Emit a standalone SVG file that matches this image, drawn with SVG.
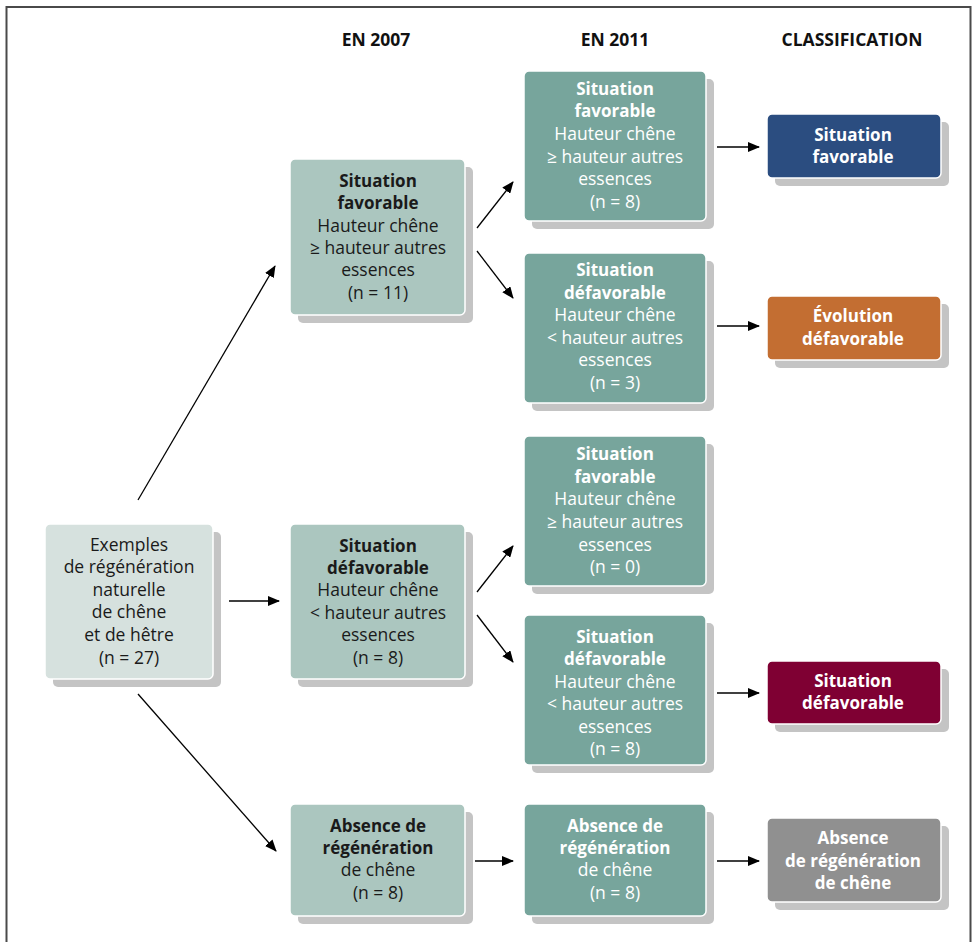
<svg xmlns="http://www.w3.org/2000/svg" width="975" height="942" viewBox="0 0 975 942">
<defs>
<style>
.shadow{fill:#c4c4c4}
.box{stroke:#ffffff;stroke-width:1.5}
.start{fill:#d6e1de}
.y07{fill:#abc6bf}
.y11{fill:#77a59c}
.blue{fill:#2b4d80}
.orange{fill:#c36e32}
.red{fill:#7f0033}
.gray{fill:#909090}
text{font-family:"Open Sans","Lato","Liberation Sans",sans-serif;font-size:17.5px;text-anchor:middle}
.dk{fill:#1a1a1a}
.wh{fill:#ffffff}
.b{font-weight:bold;font-size:17px}
.hdr{font-weight:bold;font-size:17.5px;fill:#111}
.conn line{stroke:#000;stroke-width:1.3;marker-end:url(#ah)}
</style>
<marker id="ah" viewBox="0 0 12 10" refX="11" refY="5" markerWidth="12" markerHeight="10" markerUnits="userSpaceOnUse" orient="auto">
<path d="M0,0 L12,5 L0,10 Z" fill="#000"/>
</marker>
</defs>
<rect x="0" y="0" width="975" height="942" fill="#fff"/>
<path d="M6.5,944 V7 H970.5 V944" fill="none" stroke="#4a4a4a" stroke-width="2"/>

<g id="headers">
<text class="hdr" x="376" y="46">EN 2007</text>
<text class="hdr" x="615" y="46">EN 2011</text>
<text class="hdr" x="852" y="46">CLASSIFICATION</text>
</g>

<g id="start">
<rect class="shadow" x="53" y="532" width="168" height="155" rx="5"/>
<rect class="box start" x="45" y="524" width="168" height="155" rx="5"/>
<text class="dk" x="129" y="551">Exemples</text>
<text class="dk" x="129" y="573">de régénération</text>
<text class="dk" x="129" y="596">naturelle</text>
<text class="dk" x="129" y="618">de chêne</text>
<text class="dk" x="129" y="641">et de hêtre</text>
<text class="dk" x="129" y="664">(n = 27)</text>
</g>

<g id="fav2007">
<rect class="shadow" x="298" y="167" width="175" height="156" rx="5"/>
<rect class="box y07" x="290" y="159" width="175" height="156" rx="5"/>
<text class="dk b" x="378" y="187">Situation</text>
<text class="dk b" x="378" y="209">favorable</text>
<text class="dk" x="378" y="232">Hauteur chêne</text>
<text class="dk" x="378" y="254">≥ hauteur autres</text>
<text class="dk" x="378" y="276">essences</text>
<text class="dk" x="378" y="299">(n = 11)</text>
</g>

<g id="def2007">
<rect class="shadow" x="298" y="532" width="175" height="155" rx="5"/>
<rect class="box y07" x="290" y="524" width="175" height="155" rx="5"/>
<text class="dk b" x="378" y="552">Situation</text>
<text class="dk b" x="378" y="574">défavorable</text>
<text class="dk" x="378" y="596">Hauteur chêne</text>
<text class="dk" x="378" y="619">&lt; hauteur autres</text>
<text class="dk" x="378" y="641">essences</text>
<text class="dk" x="378" y="664">(n = 8)</text>
</g>

<g id="abs2007">
<rect class="shadow" x="298" y="812" width="175" height="112" rx="5"/>
<rect class="box y07" x="290" y="804" width="175" height="112" rx="5"/>
<text class="dk b" x="378" y="832">Absence de</text>
<text class="dk b" x="378" y="854">régénération</text>
<text class="dk" x="378" y="876">de chêne</text>
<text class="dk" x="378" y="899">(n = 8)</text>
</g>

<g id="fav2011a">
<rect class="shadow" x="532" y="79" width="182" height="150" rx="5"/>
<rect class="box y11" x="524" y="71" width="182" height="150" rx="5"/>
<text class="wh b" x="615" y="95">Situation</text>
<text class="wh b" x="615" y="117">favorable</text>
<text class="wh" x="615" y="140">Hauteur chêne</text>
<text class="wh" x="615" y="163">≥ hauteur autres</text>
<text class="wh" x="615" y="185">essences</text>
<text class="wh" x="615" y="208">(n = 8)</text>
</g>

<g id="def2011a">
<rect class="shadow" x="532" y="261" width="182" height="150" rx="5"/>
<rect class="box y11" x="524" y="253" width="182" height="150" rx="5"/>
<text class="wh b" x="615" y="276">Situation</text>
<text class="wh b" x="615" y="299">défavorable</text>
<text class="wh" x="615" y="321">Hauteur chêne</text>
<text class="wh" x="615" y="344">&lt; hauteur autres</text>
<text class="wh" x="615" y="366">essences</text>
<text class="wh" x="615" y="389">(n = 3)</text>
</g>

<g id="fav2011b">
<rect class="shadow" x="532" y="444" width="182" height="150" rx="5"/>
<rect class="box y11" x="524" y="436" width="182" height="150" rx="5"/>
<text class="wh b" x="615" y="460">Situation</text>
<text class="wh b" x="615" y="483">favorable</text>
<text class="wh" x="615" y="505">Hauteur chêne</text>
<text class="wh" x="615" y="528">≥ hauteur autres</text>
<text class="wh" x="615" y="551">essences</text>
<text class="wh" x="615" y="573">(n = 0)</text>
</g>

<g id="def2011b">
<rect class="shadow" x="532" y="623" width="182" height="150" rx="5"/>
<rect class="box y11" x="524" y="615" width="182" height="150" rx="5"/>
<text class="wh b" x="615" y="643">Situation</text>
<text class="wh b" x="615" y="665">défavorable</text>
<text class="wh" x="615" y="688">Hauteur chêne</text>
<text class="wh" x="615" y="710">&lt; hauteur autres</text>
<text class="wh" x="615" y="733">essences</text>
<text class="wh" x="615" y="755">(n = 8)</text>
</g>

<g id="abs2011">
<rect class="shadow" x="532" y="812" width="182" height="112" rx="5"/>
<rect class="box y11" x="524" y="804" width="182" height="112" rx="5"/>
<text class="wh b" x="615" y="832">Absence de</text>
<text class="wh b" x="615" y="854">régénération</text>
<text class="wh" x="615" y="876">de chêne</text>
<text class="wh" x="615" y="899">(n = 8)</text>
</g>

<g id="classFav">
<rect class="shadow" x="775" y="122" width="174" height="64" rx="5"/>
<rect class="box blue" x="767" y="114" width="174" height="64" rx="5"/>
<text class="wh b" x="853" y="141">Situation</text>
<text class="wh b" x="853" y="163">favorable</text>
</g>

<g id="classEvol">
<rect class="shadow" x="775" y="304" width="174" height="64" rx="5"/>
<rect class="box orange" x="767" y="296" width="174" height="64" rx="5"/>
<text class="wh b" x="853" y="322">Évolution</text>
<text class="wh b" x="853" y="345">défavorable</text>
</g>

<g id="classDef">
<rect class="shadow" x="775" y="669" width="174" height="63" rx="5"/>
<rect class="box red" x="767" y="661" width="174" height="63" rx="5"/>
<text class="wh b" x="853" y="687">Situation</text>
<text class="wh b" x="853" y="709">défavorable</text>
</g>

<g id="classAbs">
<rect class="shadow" x="775" y="826" width="174" height="84" rx="5"/>
<rect class="box gray" x="767" y="818" width="174" height="84" rx="5"/>
<text class="wh b" x="853" y="844">Absence</text>
<text class="wh b" x="853" y="867">de régénération</text>
<text class="wh b" x="853" y="889">de chêne</text>
</g>

<g id="connectors" class="conn">
<line x1="138" y1="500" x2="275" y2="266"/>
<line x1="229" y1="601" x2="279" y2="601"/>
<line x1="138" y1="694" x2="276" y2="851"/>
<line x1="477" y1="228" x2="513" y2="182"/>
<line x1="477" y1="251" x2="513" y2="298"/>
<line x1="477" y1="592" x2="513" y2="546"/>
<line x1="477" y1="615" x2="513" y2="662"/>
<line x1="475" y1="861" x2="513" y2="861"/>
<line x1="717" y1="147" x2="759" y2="147"/>
<line x1="717" y1="326" x2="759" y2="326"/>
<line x1="717" y1="693" x2="759" y2="693"/>
<line x1="717" y1="861" x2="759" y2="861"/>
</g>
</svg>
